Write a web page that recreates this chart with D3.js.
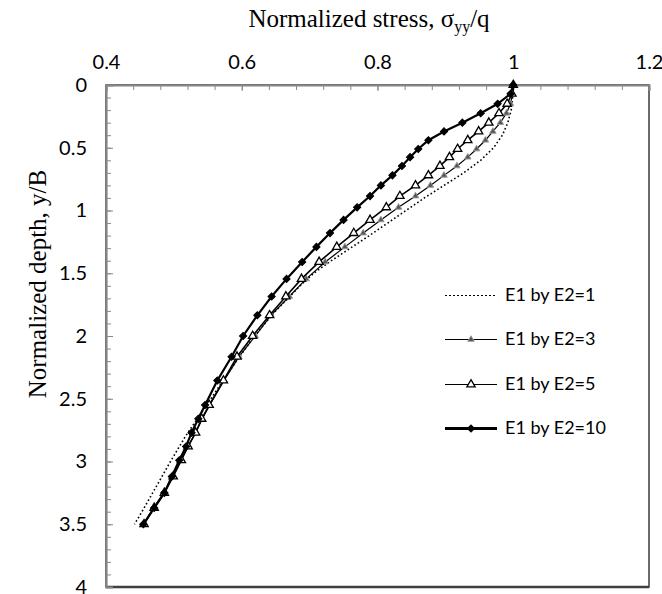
<!DOCTYPE html>
<html>
<head>
<meta charset="UTF-8">
<title>Normalized stress vs depth</title>
<script src="https://cdn.jsdelivr.net/npm/d3@7"></script>
<style>
  body { margin: 0; background: #fff; }
  .tick text { font-family: Lato, sans-serif; font-size: 20px; fill: #000; }
  .axis-title { font-family: "Liberation Serif", "Times New Roman", serif; font-size: 25px; fill: #000; }
  .legend text { font-family: Lato, sans-serif; font-size: 18px; fill: #000; }
</style>
</head>
<body>
<svg width="662" height="594"></svg>
<script>
// depth nodes shared by the marked series (y/B)
var depth = [0, 0.07, 0.15, 0.225, 0.30, 0.37, 0.44, 0.51, 0.575, 0.645, 0.72, 0.80, 0.885, 0.975,
             1.075, 1.18, 1.29, 1.41, 1.545, 1.685, 1.835, 2.0, 2.165, 2.355, 2.55, 2.66, 2.77,
             2.88, 2.99, 3.12, 3.25, 3.37, 3.5];
var stressE3 = [1.0, 0.999, 0.996, 0.990, 0.981, 0.970, 0.959, 0.946, 0.933, 0.917, 0.898, 0.878, 0.856, 0.831,
                0.805, 0.779, 0.752, 0.723, 0.695, 0.670, 0.643, 0.620, 0.596, 0.574, 0.553, 0.542, 0.532,
                0.521, 0.510, 0.498, 0.485, 0.470, 0.455];
var stressE5 = [1.0, 0.998, 0.991, 0.979, 0.964, 0.949, 0.933, 0.918, 0.906, 0.892, 0.875, 0.856, 0.833, 0.813,
                0.789, 0.765, 0.740, 0.714, 0.688, 0.665, 0.641, 0.616, 0.593, 0.573, 0.552, 0.541, 0.532,
                0.521, 0.511, 0.499, 0.486, 0.471, 0.456];
var stressE10 = [1.0, 0.996, 0.977, 0.952, 0.925, 0.898, 0.875, 0.860, 0.848, 0.836, 0.822, 0.805, 0.789, 0.770,
                 0.750, 0.730, 0.710, 0.689, 0.666, 0.644, 0.623, 0.602, 0.585, 0.564, 0.546, 0.536, 0.526,
                 0.518, 0.508, 0.497, 0.486, 0.471, 0.455];
// homogeneous case, dotted line without markers
var depthE1 = [0, 0.1, 0.2, 0.3, 0.4, 0.5, 0.6, 0.7, 0.8, 0.9, 1.0, 1.1, 1.2, 1.3, 1.4, 1.5, 1.6, 1.7,
               1.8, 1.9, 2.0, 2.2, 2.4, 2.6, 2.8, 3.0, 3.2, 3.4, 3.5];
var stressE1 = [1.0, 0.999, 0.997, 0.992, 0.984, 0.971, 0.952, 0.927, 0.898, 0.869, 0.842, 0.815, 0.788, 0.760,
                0.732, 0.706, 0.686, 0.668, 0.650, 0.634, 0.619, 0.592, 0.567, 0.542, 0.517, 0.495, 0.474,
                0.453, 0.442];

var seriesNames = ["E1 by E2=1", "E1 by E2=3", "E1 by E2=5", "E1 by E2=10"];
var xTicks = [0.4, 0.6, 0.8, 1, 1.2];
var yTicks = [0, 0.5, 1, 1.5, 2, 2.5, 3, 3.5, 4];

var svg = d3.select("svg");
var plotLeft = 106, plotRight = 649, plotTop = 85, plotBottom = 587;

var x = d3.scaleLinear().domain([0.4, 1.2]).range([plotLeft, plotRight]);
var y = d3.scaleLinear().domain([0, 4]).range([plotTop, plotBottom]);

// plot border
svg.append("rect")
  .attr("x", plotLeft).attr("y", plotTop)
  .attr("width", plotRight - plotLeft).attr("height", plotBottom - plotTop)
  .attr("fill", "none").attr("stroke", "#3a3a3a").attr("stroke-width", 1.5);
svg.append("line").attr("x1", plotLeft).attr("x2", plotRight).attr("y1", plotBottom).attr("y2", plotBottom)
  .attr("stroke", "#404040").attr("stroke-width", 2.5);

// minor ticks
var xMinor = d3.range(0.4, 1.2001, 0.04);
var yMinor = d3.range(0, 4.0001, 0.1);
svg.append("g").attr("transform", "translate(0," + plotTop + ")")
  .call(d3.axisTop(x).tickValues(xMinor).tickSize(-5).tickFormat(""))
  .call(function(g) { g.select(".domain").remove(); g.selectAll("line").attr("stroke", "#888"); });
svg.append("g").attr("transform", "translate(" + plotLeft + ",0)")
  .call(d3.axisLeft(y).tickValues(yMinor).tickSize(-5).tickFormat(""))
  .call(function(g) { g.select(".domain").remove(); g.selectAll("line").attr("stroke", "#888"); });

// major axes with labels
var xAxis = svg.append("g").attr("transform", "translate(0," + plotTop + ")")
  .call(d3.axisTop(x).tickValues(xTicks).tickSize(-6).tickPadding(16).tickFormat(d3.format("")));
xAxis.select(".domain").attr("stroke", "#868686").attr("stroke-width", 2.2);
xAxis.selectAll(".tick line").attr("stroke", "#888");

var yAxis = svg.append("g").attr("transform", "translate(" + plotLeft + ",0)")
  .call(d3.axisLeft(y).tickValues(yTicks).tickSize(-7).tickPadding(19).tickFormat(d3.format("")));
yAxis.select(".domain").attr("stroke", "#868686").attr("stroke-width", 2.2);
yAxis.selectAll(".tick line").attr("stroke", "#888");

// axis titles
var xt = svg.append("text").attr("class", "axis-title")
  .attr("x", 369).attr("y", 27).attr("text-anchor", "middle");
xt.append("tspan").text("Normalized stress, \u03c3");
xt.append("tspan").attr("font-size", "16px").attr("dy", 5).text("yy");
xt.append("tspan").attr("dy", -5).text("/q");

svg.append("text").attr("class", "axis-title")
  .attr("transform", "translate(46,284) rotate(-90)")
  .attr("text-anchor", "middle")
  .text("Normalized depth, y/B");

// series
var line = d3.line().x(function(d) { return x(d[0]); }).y(function(d) { return y(d[1]); });

var e1 = d3.zip(stressE1, depthE1);
var e3 = d3.zip(stressE3, depth);
var e5 = d3.zip(stressE5, depth);
var e10 = d3.zip(stressE10, depth);

var styles = [
  { data: e1, width: 1.6, dash: "1.6,2.4", marker: null },
  { data: e3, width: 1.2, dash: null, marker: "small" },
  { data: e5, width: 1.6, dash: null, marker: "open" },
  { data: e10, width: 2.2, dash: null, marker: "diamond" }
];

function drawMarker(g, kind, px, py) {
  if (kind === "small") {
    g.append("path").attr("d", d3.symbol(d3.symbolTriangle, 18)())
      .attr("transform", "translate(" + px + "," + py + ")")
      .attr("fill", "#555").attr("stroke", "#9a9a9a").attr("stroke-width", 1);
  } else if (kind === "open") {
    g.append("path").attr("d", d3.symbol(d3.symbolTriangle, 30)())
      .attr("transform", "translate(" + px + "," + py + ")")
      .attr("fill", "#fff").attr("stroke", "#000").attr("stroke-width", 1.3);
  } else if (kind === "diamond") {
    g.append("path").attr("d", d3.symbol(d3.symbolSquare, 26)())
      .attr("transform", "translate(" + px + "," + py + ") rotate(45)")
      .attr("fill", "#000").attr("stroke", "#000").attr("stroke-width", 1);
  }
}

styles.forEach(function(s) {
  var g = svg.append("g");
  g.append("path").datum(s.data).attr("d", line)
    .attr("fill", "none").attr("stroke", "#000")
    .attr("stroke-width", s.width)
    .attr("stroke-dasharray", s.dash);
  if (s.marker) {
    s.data.forEach(function(d) { drawMarker(g, s.marker, x(d[0]), y(d[1])); });
  }
});

// legend
var legendY = [295, 339, 384, 428];
var legend = svg.append("g").attr("class", "legend");
styles.forEach(function(s, i) {
  var ly = legendY[i];
  legend.append("line").attr("x1", 445).attr("x2", 497).attr("y1", ly + 0.5).attr("y2", ly + 0.5)
    .attr("stroke", "#000").attr("stroke-width", s.width).attr("stroke-dasharray", s.dash)
    .attr("shape-rendering", "crispEdges");
  if (s.marker) drawMarker(legend, s.marker, 471, ly + 0.5);
  legend.append("text").attr("x", 505).attr("y", ly).attr("dy", "0.35em").text(seriesNames[i]);
});
</script>
</body>
</html>
